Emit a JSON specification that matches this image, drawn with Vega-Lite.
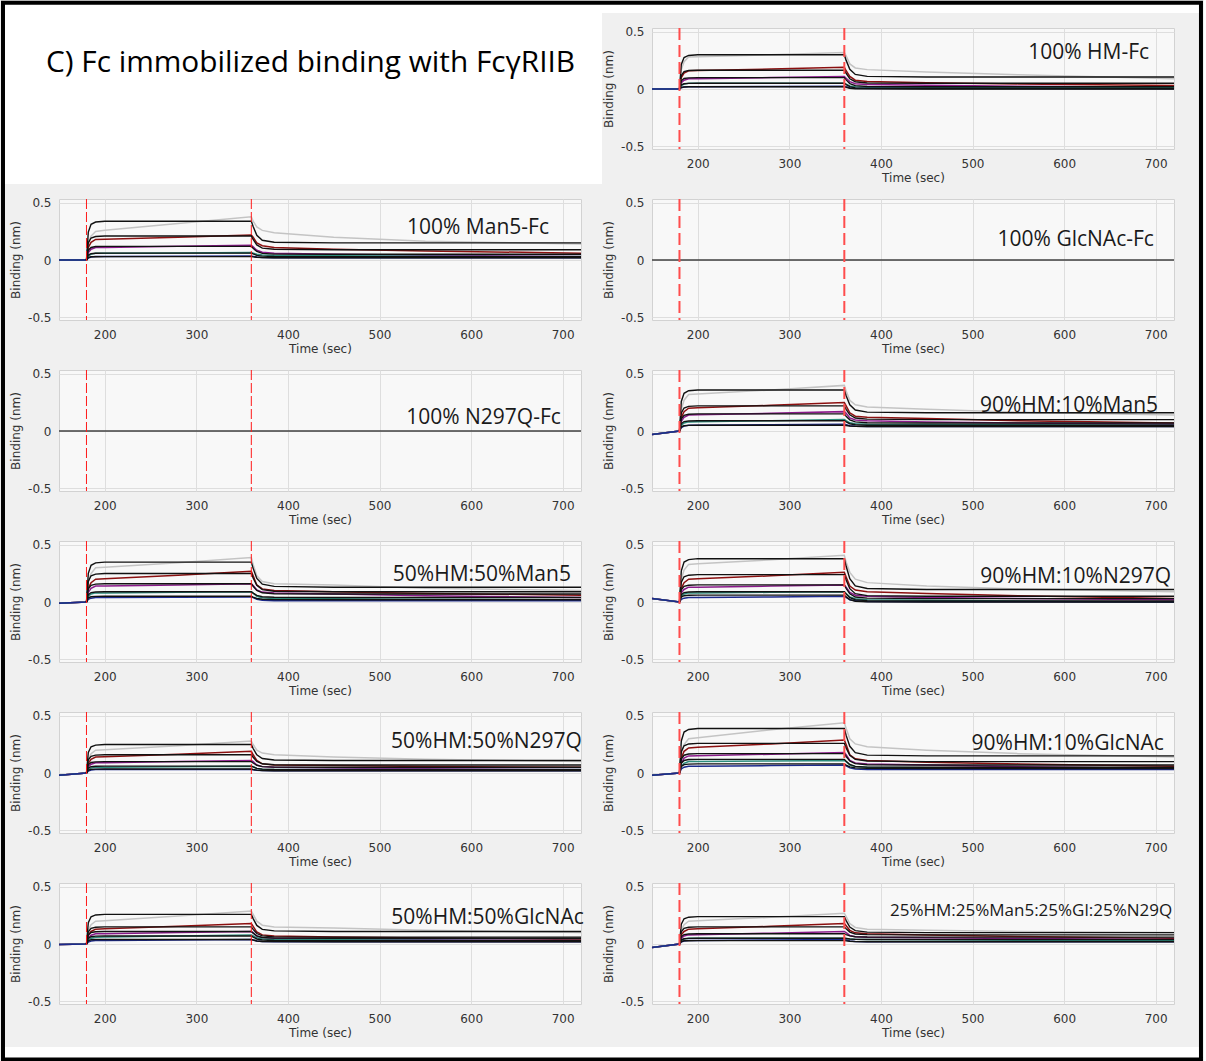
{
"$schema":"https://vega.github.io/schema/vega-lite/v6.json",
"background":"#f0f0f0",
"padding":0,
"datasets":{
"heading":[{"text":"C) Fc immobilized binding with FcγRIIB"}],
"phases":[{"t":180},{"t":360}],
"labels":[{"p":"HM","name":"100% HM-Fc"},{"p":"Man5","name":"100% Man5-Fc"},{"p":"GlcNAc","name":"100% GlcNAc-Fc"},{"p":"N297Q","name":"100% N297Q-Fc"},{"p":"90Man5","name":"90%HM:10%Man5"},{"p":"50Man5","name":"50%HM:50%Man5"},{"p":"90N297Q","name":"90%HM:10%N297Q"},{"p":"50N297Q","name":"50%HM:50%N297Q"},{"p":"90GlcNAc","name":"90%HM:10%GlcNAc"},{"p":"50GlcNAc","name":"50%HM:50%GlcNAc"},{"p":"25","name":"25%HM:25%Man5:25%Gl:25%N29Q"}],
"curves":[
{"p":"HM","t":150,"g":0,"r":0,"u":0,"e":0,"b":0},
{"p":"HM","t":180,"f1":0,"f2":0,"f3":0,"f4":0,"f5":0,"g":0,"r":0,"u":0,"e":0,"b":0},
{"p":"HM","t":182,"f1":0.216,"f2":0.119,"f3":0.072,"f4":0.036,"f5":0.014,"g":0.17,"r":0.1,"u":0.055,"e":0.03,"b":0.012},
{"p":"HM","t":185,"f1":0.276,"f2":0.152,"f3":0.092,"f4":0.046,"f5":0.018,"g":0.24,"r":0.14,"u":0.077,"e":0.043,"b":0.017},
{"p":"HM","t":190,"f1":0.294,"f2":0.162,"f3":0.098,"f4":0.049,"f5":0.02,"g":0.28,"r":0.16,"u":0.09,"e":0.05,"b":0.02},
{"p":"HM","t":200,"f1":0.3,"f2":0.165,"f3":0.1,"f4":0.05,"f5":0.02,"g":0.283,"r":0.162,"u":0.091,"e":0.05,"b":0.02},
{"p":"HM","t":280,"f1":0.3,"f2":0.165,"f3":0.1,"f4":0.05,"f5":0.02,"g":0.3,"r":0.175,"u":0.1,"e":0.05,"b":0.022},
{"p":"HM","t":360,"f1":0.3,"f2":0.165,"f3":0.1,"f4":0.05,"f5":0.02,"g":0.32,"r":0.19,"u":0.11,"e":0.05,"b":0.025},
{"p":"HM","t":362,"f1":0.251,"f2":0.136,"f3":0.08,"f4":0.039,"f5":0.015,"g":0.29,"r":0.16,"u":0.095,"e":0.043,"b":0.02},
{"p":"HM","t":366,"f1":0.173,"f2":0.09,"f3":0.048,"f4":0.021,"f5":0.007,"g":0.22,"r":0.11,"u":0.065,"e":0.027,"b":0.012},
{"p":"HM","t":372,"f1":0.128,"f2":0.064,"f3":0.03,"f4":0.01,"f5":0.002,"g":0.185,"r":0.077,"u":0.047,"e":0.019,"b":0.007},
{"p":"HM","t":385,"f1":0.111,"f2":0.053,"f3":0.022,"f4":0.006,"f5":0.001,"g":0.17,"r":0.065,"u":0.04,"e":0.015,"b":0.005},
{"p":"HM","t":450,"f1":0.105,"f2":0.05,"f3":0.02,"f4":0.005,"f5":0,"g":0.15,"r":0.055,"u":0.033,"e":0.013,"b":0.004},
{"p":"HM","t":550,"f1":0.105,"f2":0.05,"f3":0.02,"f4":0.005,"f5":0,"g":0.125,"r":0.045,"u":0.025,"e":0.012,"b":0.004},
{"p":"HM","t":720,"f1":0.105,"f2":0.05,"f3":0.02,"f4":0.005,"f5":0,"g":0.09,"r":0.03,"u":0.015,"e":0.01,"b":0.003},
{"p":"Man5","t":150,"g":0,"r":0,"u":0,"e":0,"b":0},
{"p":"Man5","t":180,"f1":0,"f2":0,"f3":0,"f4":0,"f5":0,"g":0,"r":0,"u":0,"e":0,"b":0},
{"p":"Man5","t":182,"f1":0.245,"f2":0.151,"f3":0.086,"f4":0.043,"f5":0.022,"g":0.15,"r":0.11,"u":0.065,"e":0.035,"b":0.018},
{"p":"Man5","t":185,"f1":0.313,"f2":0.193,"f3":0.11,"f4":0.055,"f5":0.028,"g":0.21,"r":0.155,"u":0.095,"e":0.052,"b":0.026},
{"p":"Man5","t":190,"f1":0.333,"f2":0.206,"f3":0.118,"f4":0.059,"f5":0.029,"g":0.25,"r":0.18,"u":0.11,"e":0.06,"b":0.03},
{"p":"Man5","t":200,"f1":0.34,"f2":0.21,"f3":0.12,"f4":0.06,"f5":0.03,"g":0.26,"r":0.183,"u":0.11,"e":0.06,"b":0.03},
{"p":"Man5","t":280,"f1":0.34,"f2":0.21,"f3":0.12,"f4":0.06,"f5":0.03,"g":0.32,"r":0.2,"u":0.12,"e":0.062,"b":0.032},
{"p":"Man5","t":360,"f1":0.34,"f2":0.21,"f3":0.12,"f4":0.06,"f5":0.03,"g":0.38,"r":0.22,"u":0.13,"e":0.065,"b":0.035},
{"p":"Man5","t":362,"f1":0.293,"f2":0.18,"f3":0.103,"f4":0.053,"f5":0.028,"g":0.34,"r":0.2,"u":0.115,"e":0.06,"b":0.032},
{"p":"Man5","t":366,"f1":0.217,"f2":0.132,"f3":0.075,"f4":0.041,"f5":0.024,"g":0.29,"r":0.15,"u":0.085,"e":0.05,"b":0.026},
{"p":"Man5","t":372,"f1":0.173,"f2":0.104,"f3":0.058,"f4":0.034,"f5":0.021,"g":0.26,"r":0.125,"u":0.068,"e":0.043,"b":0.022},
{"p":"Man5","t":385,"f1":0.156,"f2":0.094,"f3":0.052,"f4":0.031,"f5":0.02,"g":0.24,"r":0.11,"u":0.06,"e":0.04,"b":0.02},
{"p":"Man5","t":450,"f1":0.15,"f2":0.09,"f3":0.05,"f4":0.03,"f5":0.02,"g":0.2,"r":0.095,"u":0.05,"e":0.037,"b":0.02},
{"p":"Man5","t":550,"f1":0.15,"f2":0.09,"f3":0.05,"f4":0.03,"f5":0.02,"g":0.165,"r":0.08,"u":0.042,"e":0.034,"b":0.02},
{"p":"Man5","t":720,"f1":0.15,"f2":0.09,"f3":0.05,"f4":0.03,"f5":0.02,"g":0.14,"r":0.06,"u":0.03,"e":0.03,"b":0.02},
{"p":"GlcNAc","t":150,"f1":0},
{"p":"GlcNAc","t":720,"f1":0},
{"p":"N297Q","t":150,"f1":0},
{"p":"N297Q","t":720,"f1":0},
{"p":"90Man5","t":150,"g":-0.03,"r":-0.03,"u":-0.03,"e":-0.03,"b":-0.03},
{"p":"90Man5","t":180,"f1":0,"f2":0,"f3":0,"f4":0,"f5":0,"g":0,"r":0,"u":0,"e":0,"b":0},
{"p":"90Man5","t":182,"f1":0.259,"f2":0.158,"f3":0.108,"f4":0.065,"f5":0.036,"g":0.19,"r":0.12,"u":0.085,"e":0.05,"b":0.03},
{"p":"90Man5","t":185,"f1":0.331,"f2":0.202,"f3":0.138,"f4":0.083,"f5":0.046,"g":0.27,"r":0.17,"u":0.12,"e":0.07,"b":0.043},
{"p":"90Man5","t":190,"f1":0.353,"f2":0.216,"f3":0.147,"f4":0.088,"f5":0.049,"g":0.32,"r":0.2,"u":0.14,"e":0.08,"b":0.05},
{"p":"90Man5","t":200,"f1":0.36,"f2":0.22,"f3":0.15,"f4":0.09,"f5":0.05,"g":0.325,"r":0.205,"u":0.142,"e":0.082,"b":0.05},
{"p":"90Man5","t":280,"f1":0.36,"f2":0.22,"f3":0.15,"f4":0.09,"f5":0.05,"g":0.36,"r":0.225,"u":0.155,"e":0.09,"b":0.055},
{"p":"90Man5","t":360,"f1":0.36,"f2":0.22,"f3":0.15,"f4":0.09,"f5":0.05,"g":0.4,"r":0.25,"u":0.17,"e":0.1,"b":0.06},
{"p":"90Man5","t":362,"f1":0.31,"f2":0.19,"f3":0.13,"f4":0.08,"f5":0.048,"g":0.35,"r":0.22,"u":0.155,"e":0.09,"b":0.056},
{"p":"90Man5","t":366,"f1":0.23,"f2":0.142,"f3":0.098,"f4":0.064,"f5":0.044,"g":0.27,"r":0.16,"u":0.115,"e":0.072,"b":0.047},
{"p":"90Man5","t":372,"f1":0.184,"f2":0.114,"f3":0.08,"f4":0.055,"f5":0.041,"g":0.23,"r":0.13,"u":0.097,"e":0.064,"b":0.042},
{"p":"90Man5","t":385,"f1":0.166,"f2":0.104,"f3":0.072,"f4":0.051,"f5":0.04,"g":0.21,"r":0.12,"u":0.09,"e":0.06,"b":0.04},
{"p":"90Man5","t":450,"f1":0.16,"f2":0.1,"f3":0.07,"f4":0.05,"f5":0.04,"g":0.19,"r":0.11,"u":0.08,"e":0.057,"b":0.04},
{"p":"90Man5","t":550,"f1":0.16,"f2":0.1,"f3":0.07,"f4":0.05,"f5":0.04,"g":0.165,"r":0.09,"u":0.07,"e":0.054,"b":0.04},
{"p":"90Man5","t":720,"f1":0.16,"f2":0.1,"f3":0.07,"f4":0.05,"f5":0.04,"g":0.14,"r":0.07,"u":0.06,"e":0.05,"b":0.04},
{"p":"50Man5","t":150,"g":-0.01,"r":-0.01,"u":-0.01,"e":-0.01,"b":-0.01},
{"p":"50Man5","t":180,"f1":0,"f2":0,"f3":0,"f4":0,"f5":0,"g":0,"r":0,"u":0,"e":0,"b":0},
{"p":"50Man5","t":182,"f1":0.252,"f2":0.18,"f3":0.115,"f4":0.065,"f5":0.036,"g":0.18,"r":0.12,"u":0.085,"e":0.05,"b":0.024},
{"p":"50Man5","t":185,"f1":0.322,"f2":0.23,"f3":0.147,"f4":0.083,"f5":0.046,"g":0.25,"r":0.17,"u":0.12,"e":0.07,"b":0.034},
{"p":"50Man5","t":190,"f1":0.343,"f2":0.245,"f3":0.157,"f4":0.088,"f5":0.049,"g":0.3,"r":0.2,"u":0.14,"e":0.08,"b":0.04},
{"p":"50Man5","t":200,"f1":0.35,"f2":0.25,"f3":0.16,"f4":0.09,"f5":0.05,"g":0.305,"r":0.205,"u":0.14,"e":0.08,"b":0.04},
{"p":"50Man5","t":280,"f1":0.35,"f2":0.25,"f3":0.16,"f4":0.09,"f5":0.05,"g":0.345,"r":0.235,"u":0.15,"e":0.085,"b":0.042},
{"p":"50Man5","t":360,"f1":0.35,"f2":0.25,"f3":0.16,"f4":0.09,"f5":0.05,"g":0.39,"r":0.27,"u":0.16,"e":0.09,"b":0.045},
{"p":"50Man5","t":362,"f1":0.295,"f2":0.21,"f3":0.138,"f4":0.078,"f5":0.043,"g":0.33,"r":0.23,"u":0.145,"e":0.078,"b":0.038},
{"p":"50Man5","t":366,"f1":0.207,"f2":0.146,"f3":0.102,"f4":0.058,"f5":0.031,"g":0.23,"r":0.15,"u":0.105,"e":0.05,"b":0.024},
{"p":"50Man5","t":372,"f1":0.156,"f2":0.109,"f3":0.081,"f4":0.046,"f5":0.024,"g":0.18,"r":0.115,"u":0.087,"e":0.037,"b":0.016},
{"p":"50Man5","t":385,"f1":0.137,"f2":0.095,"f3":0.073,"f4":0.042,"f5":0.021,"g":0.16,"r":0.1,"u":0.08,"e":0.03,"b":0.012},
{"p":"50Man5","t":450,"f1":0.13,"f2":0.09,"f3":0.07,"f4":0.04,"f5":0.02,"g":0.15,"r":0.09,"u":0.07,"e":0.028,"b":0.011},
{"p":"50Man5","t":550,"f1":0.13,"f2":0.09,"f3":0.07,"f4":0.04,"f5":0.02,"g":0.12,"r":0.075,"u":0.055,"e":0.025,"b":0.01},
{"p":"50Man5","t":720,"f1":0.13,"f2":0.09,"f3":0.07,"f4":0.04,"f5":0.02,"g":0.1,"r":0.06,"u":0.04,"e":0.02,"b":0.01},
{"p":"90N297Q","t":150,"g":0.03,"r":0.03,"u":0.03,"e":0.03,"b":0.03},
{"p":"90N297Q","t":180,"f1":0,"f2":0,"f3":0,"f4":0,"f5":0,"g":0,"r":0,"u":0,"e":0,"b":0},
{"p":"90N297Q","t":182,"f1":0.274,"f2":0.173,"f3":0.108,"f4":0.065,"f5":0.043,"g":0.2,"r":0.12,"u":0.08,"e":0.05,"b":0.024},
{"p":"90N297Q","t":185,"f1":0.35,"f2":0.221,"f3":0.138,"f4":0.083,"f5":0.055,"g":0.28,"r":0.17,"u":0.11,"e":0.07,"b":0.034},
{"p":"90N297Q","t":190,"f1":0.372,"f2":0.235,"f3":0.147,"f4":0.088,"f5":0.059,"g":0.33,"r":0.2,"u":0.13,"e":0.08,"b":0.04},
{"p":"90N297Q","t":200,"f1":0.38,"f2":0.24,"f3":0.15,"f4":0.09,"f5":0.06,"g":0.335,"r":0.205,"u":0.13,"e":0.08,"b":0.04},
{"p":"90N297Q","t":280,"f1":0.38,"f2":0.24,"f3":0.15,"f4":0.09,"f5":0.06,"g":0.37,"r":0.23,"u":0.14,"e":0.085,"b":0.045},
{"p":"90N297Q","t":360,"f1":0.38,"f2":0.24,"f3":0.15,"f4":0.09,"f5":0.06,"g":0.41,"r":0.26,"u":0.15,"e":0.09,"b":0.05},
{"p":"90N297Q","t":362,"f1":0.313,"f2":0.193,"f3":0.12,"f4":0.07,"f5":0.045,"g":0.35,"r":0.22,"u":0.13,"e":0.075,"b":0.04},
{"p":"90N297Q","t":366,"f1":0.205,"f2":0.117,"f3":0.072,"f4":0.038,"f5":0.021,"g":0.26,"r":0.14,"u":0.085,"e":0.045,"b":0.02},
{"p":"90N297Q","t":372,"f1":0.142,"f2":0.073,"f3":0.044,"f4":0.02,"f5":0.007,"g":0.2,"r":0.105,"u":0.06,"e":0.028,"b":0.01},
{"p":"90N297Q","t":385,"f1":0.118,"f2":0.056,"f3":0.034,"f4":0.012,"f5":0.002,"g":0.17,"r":0.09,"u":0.05,"e":0.02,"b":0.005},
{"p":"90N297Q","t":450,"f1":0.11,"f2":0.05,"f3":0.03,"f4":0.01,"f5":0,"g":0.14,"r":0.075,"u":0.04,"e":0.015,"b":0.003},
{"p":"90N297Q","t":550,"f1":0.11,"f2":0.05,"f3":0.03,"f4":0.01,"f5":0,"g":0.115,"r":0.055,"u":0.03,"e":0.008,"b":0.002},
{"p":"90N297Q","t":720,"f1":0.11,"f2":0.05,"f3":0.03,"f4":0.01,"f5":0,"g":0.09,"r":0.03,"u":0.02,"e":0,"b":0},
{"p":"50N297Q","t":150,"g":-0.02,"r":-0.02,"u":-0.02,"e":-0.02,"b":-0.02},
{"p":"50N297Q","t":180,"f1":0,"f2":0,"f3":0,"f4":0,"f5":0,"g":0,"r":0,"u":0,"e":0,"b":0},
{"p":"50N297Q","t":182,"f1":0.18,"f2":0.115,"f3":0.072,"f4":0.043,"f5":0.025,"g":0.12,"r":0.085,"u":0.055,"e":0.03,"b":0.018},
{"p":"50N297Q","t":185,"f1":0.23,"f2":0.147,"f3":0.092,"f4":0.055,"f5":0.032,"g":0.17,"r":0.12,"u":0.077,"e":0.043,"b":0.026},
{"p":"50N297Q","t":190,"f1":0.245,"f2":0.157,"f3":0.098,"f4":0.059,"f5":0.034,"g":0.2,"r":0.14,"u":0.09,"e":0.05,"b":0.03},
{"p":"50N297Q","t":200,"f1":0.25,"f2":0.16,"f3":0.1,"f4":0.06,"f5":0.035,"g":0.205,"r":0.143,"u":0.09,"e":0.05,"b":0.03},
{"p":"50N297Q","t":280,"f1":0.25,"f2":0.16,"f3":0.1,"f4":0.06,"f5":0.035,"g":0.24,"r":0.165,"u":0.1,"e":0.055,"b":0.03},
{"p":"50N297Q","t":360,"f1":0.25,"f2":0.16,"f3":0.1,"f4":0.06,"f5":0.035,"g":0.28,"r":0.19,"u":0.11,"e":0.06,"b":0.03},
{"p":"50N297Q","t":362,"f1":0.215,"f2":0.138,"f3":0.088,"f4":0.053,"f5":0.031,"g":0.25,"r":0.16,"u":0.1,"e":0.055,"b":0.028},
{"p":"50N297Q","t":366,"f1":0.159,"f2":0.102,"f3":0.068,"f4":0.041,"f5":0.025,"g":0.2,"r":0.11,"u":0.07,"e":0.04,"b":0.024},
{"p":"50N297Q","t":372,"f1":0.127,"f2":0.081,"f3":0.056,"f4":0.034,"f5":0.022,"g":0.175,"r":0.08,"u":0.056,"e":0.033,"b":0.021},
{"p":"50N297Q","t":385,"f1":0.114,"f2":0.073,"f3":0.052,"f4":0.031,"f5":0.02,"g":0.16,"r":0.07,"u":0.05,"e":0.03,"b":0.02},
{"p":"50N297Q","t":450,"f1":0.11,"f2":0.07,"f3":0.05,"f4":0.03,"f5":0.02,"g":0.14,"r":0.065,"u":0.045,"e":0.03,"b":0.02},
{"p":"50N297Q","t":550,"f1":0.11,"f2":0.07,"f3":0.05,"f4":0.03,"f5":0.02,"g":0.12,"r":0.058,"u":0.038,"e":0.03,"b":0.02},
{"p":"50N297Q","t":720,"f1":0.11,"f2":0.07,"f3":0.05,"f4":0.03,"f5":0.02,"g":0.1,"r":0.05,"u":0.03,"e":0.03,"b":0.02},
{"p":"90GlcNAc","t":150,"g":-0.02,"r":-0.02,"u":-0.02,"e":-0.02,"b":-0.02},
{"p":"90GlcNAc","t":180,"f1":0,"f2":0,"f3":0,"f4":0,"f5":0,"g":0,"r":0,"u":0,"e":0,"b":0},
{"p":"90GlcNAc","t":182,"f1":0.281,"f2":0.187,"f3":0.122,"f4":0.086,"f5":0.058,"g":0.18,"r":0.13,"u":0.09,"e":0.06,"b":0.036},
{"p":"90GlcNAc","t":185,"f1":0.359,"f2":0.239,"f3":0.156,"f4":0.11,"f5":0.074,"g":0.25,"r":0.19,"u":0.13,"e":0.085,"b":0.051},
{"p":"90GlcNAc","t":190,"f1":0.382,"f2":0.255,"f3":0.167,"f4":0.118,"f5":0.078,"g":0.3,"r":0.22,"u":0.15,"e":0.1,"b":0.06},
{"p":"90GlcNAc","t":200,"f1":0.39,"f2":0.26,"f3":0.17,"f4":0.12,"f5":0.08,"g":0.31,"r":0.225,"u":0.152,"e":0.1,"b":0.06},
{"p":"90GlcNAc","t":280,"f1":0.39,"f2":0.26,"f3":0.17,"f4":0.12,"f5":0.08,"g":0.38,"r":0.255,"u":0.165,"e":0.105,"b":0.065},
{"p":"90GlcNAc","t":360,"f1":0.39,"f2":0.26,"f3":0.17,"f4":0.12,"f5":0.08,"g":0.44,"r":0.29,"u":0.18,"e":0.11,"b":0.07},
{"p":"90GlcNAc","t":362,"f1":0.33,"f2":0.22,"f3":0.145,"f4":0.103,"f5":0.07,"g":0.39,"r":0.25,"u":0.16,"e":0.1,"b":0.063},
{"p":"90GlcNAc","t":366,"f1":0.234,"f2":0.156,"f3":0.105,"f4":0.075,"f5":0.054,"g":0.3,"r":0.16,"u":0.11,"e":0.07,"b":0.045},
{"p":"90GlcNAc","t":372,"f1":0.179,"f2":0.119,"f3":0.082,"f4":0.058,"f5":0.045,"g":0.255,"r":0.125,"u":0.088,"e":0.056,"b":0.035},
{"p":"90GlcNAc","t":385,"f1":0.157,"f2":0.105,"f3":0.073,"f4":0.052,"f5":0.041,"g":0.23,"r":0.11,"u":0.08,"e":0.05,"b":0.03},
{"p":"90GlcNAc","t":450,"f1":0.15,"f2":0.1,"f3":0.07,"f4":0.05,"f5":0.04,"g":0.2,"r":0.095,"u":0.07,"e":0.047,"b":0.03},
{"p":"90GlcNAc","t":550,"f1":0.15,"f2":0.1,"f3":0.07,"f4":0.05,"f5":0.04,"g":0.17,"r":0.08,"u":0.055,"e":0.044,"b":0.03},
{"p":"90GlcNAc","t":720,"f1":0.15,"f2":0.1,"f3":0.07,"f4":0.05,"f5":0.04,"g":0.14,"r":0.06,"u":0.04,"e":0.04,"b":0.03},
{"p":"50GlcNAc","t":150,"g":-0.005,"r":-0.005,"u":-0.005,"e":-0.005,"b":-0.005},
{"p":"50GlcNAc","t":180,"f1":0,"f2":0,"f3":0,"f4":0,"f5":0,"g":0,"r":0,"u":0,"e":0,"b":0},
{"p":"50GlcNAc","t":182,"f1":0.187,"f2":0.108,"f3":0.079,"f4":0.05,"f5":0.029,"g":0.12,"r":0.08,"u":0.055,"e":0.036,"b":0.018},
{"p":"50GlcNAc","t":185,"f1":0.239,"f2":0.138,"f3":0.101,"f4":0.064,"f5":0.037,"g":0.17,"r":0.11,"u":0.077,"e":0.051,"b":0.026},
{"p":"50GlcNAc","t":190,"f1":0.255,"f2":0.147,"f3":0.108,"f4":0.069,"f5":0.039,"g":0.2,"r":0.13,"u":0.09,"e":0.06,"b":0.03},
{"p":"50GlcNAc","t":200,"f1":0.26,"f2":0.15,"f3":0.11,"f4":0.07,"f5":0.04,"g":0.205,"r":0.133,"u":0.09,"e":0.061,"b":0.03},
{"p":"50GlcNAc","t":280,"f1":0.26,"f2":0.15,"f3":0.11,"f4":0.07,"f5":0.04,"g":0.245,"r":0.155,"u":0.1,"e":0.07,"b":0.035},
{"p":"50GlcNAc","t":360,"f1":0.26,"f2":0.15,"f3":0.11,"f4":0.07,"f5":0.04,"g":0.29,"r":0.18,"u":0.11,"e":0.08,"b":0.04},
{"p":"50GlcNAc","t":362,"f1":0.223,"f2":0.128,"f3":0.095,"f4":0.06,"f5":0.035,"g":0.26,"r":0.155,"u":0.1,"e":0.072,"b":0.036},
{"p":"50GlcNAc","t":366,"f1":0.163,"f2":0.092,"f3":0.071,"f4":0.044,"f5":0.027,"g":0.2,"r":0.105,"u":0.07,"e":0.054,"b":0.027},
{"p":"50GlcNAc","t":372,"f1":0.128,"f2":0.071,"f3":0.057,"f4":0.035,"f5":0.022,"g":0.165,"r":0.08,"u":0.056,"e":0.045,"b":0.022},
{"p":"50GlcNAc","t":385,"f1":0.115,"f2":0.063,"f3":0.052,"f4":0.031,"f5":0.021,"g":0.15,"r":0.07,"u":0.05,"e":0.04,"b":0.02},
{"p":"50GlcNAc","t":450,"f1":0.11,"f2":0.06,"f3":0.05,"f4":0.03,"f5":0.02,"g":0.14,"r":0.062,"u":0.045,"e":0.037,"b":0.02},
{"p":"50GlcNAc","t":550,"f1":0.11,"f2":0.06,"f3":0.05,"f4":0.03,"f5":0.02,"g":0.12,"r":0.052,"u":0.038,"e":0.034,"b":0.02},
{"p":"50GlcNAc","t":720,"f1":0.11,"f2":0.06,"f3":0.05,"f4":0.03,"f5":0.02,"g":0.1,"r":0.04,"u":0.03,"e":0.03,"b":0.02},
{"p":"25","t":150,"g":-0.03,"r":-0.03,"u":-0.03,"e":-0.03,"b":-0.03},
{"p":"25","t":180,"f1":0,"f2":0,"f3":0,"f4":0,"f5":0,"g":0,"r":0,"u":0,"e":0,"b":0},
{"p":"25","t":182,"f1":0.173,"f2":0.108,"f3":0.065,"f4":0.036,"f5":0.022,"g":0.12,"r":0.08,"u":0.05,"e":0.03,"b":0.018},
{"p":"25","t":185,"f1":0.221,"f2":0.138,"f3":0.083,"f4":0.046,"f5":0.028,"g":0.17,"r":0.11,"u":0.07,"e":0.043,"b":0.026},
{"p":"25","t":190,"f1":0.235,"f2":0.147,"f3":0.088,"f4":0.049,"f5":0.029,"g":0.2,"r":0.13,"u":0.08,"e":0.05,"b":0.03},
{"p":"25","t":200,"f1":0.24,"f2":0.15,"f3":0.09,"f4":0.05,"f5":0.03,"g":0.205,"r":0.133,"u":0.082,"e":0.05,"b":0.03},
{"p":"25","t":280,"f1":0.24,"f2":0.15,"f3":0.09,"f4":0.05,"f5":0.03,"g":0.235,"r":0.155,"u":0.095,"e":0.05,"b":0.035},
{"p":"25","t":360,"f1":0.24,"f2":0.15,"f3":0.09,"f4":0.05,"f5":0.03,"g":0.27,"r":0.18,"u":0.11,"e":0.05,"b":0.04},
{"p":"25","t":362,"f1":0.205,"f2":0.133,"f3":0.083,"f4":0.048,"f5":0.028,"g":0.24,"r":0.16,"u":0.1,"e":0.048,"b":0.036},
{"p":"25","t":366,"f1":0.149,"f2":0.105,"f3":0.071,"f4":0.044,"f5":0.024,"g":0.18,"r":0.12,"u":0.075,"e":0.044,"b":0.027},
{"p":"25","t":372,"f1":0.117,"f2":0.088,"f3":0.064,"f4":0.041,"f5":0.021,"g":0.145,"r":0.098,"u":0.064,"e":0.041,"b":0.022},
{"p":"25","t":385,"f1":0.104,"f2":0.082,"f3":0.061,"f4":0.04,"f5":0.02,"g":0.13,"r":0.09,"u":0.06,"e":0.04,"b":0.02},
{"p":"25","t":450,"f1":0.1,"f2":0.08,"f3":0.06,"f4":0.04,"f5":0.02,"g":0.12,"r":0.08,"u":0.055,"e":0.037,"b":0.02},
{"p":"25","t":550,"f1":0.1,"f2":0.08,"f3":0.06,"f4":0.04,"f5":0.02,"g":0.11,"r":0.065,"u":0.048,"e":0.034,"b":0.02},
{"p":"25","t":720,"f1":0.1,"f2":0.08,"f3":0.06,"f4":0.04,"f5":0.02,"g":0.1,"r":0.05,"u":0.04,"e":0.03,"b":0.02}
]},
"columns":2,
"spacing":{"row":50,"column":71},
"bounds":"flush",
"concat":[
{"width":522,"height":121,"view":{"fill":"transparent","stroke":"transparent"},"data":{"name":"heading"},
 "layer":[
  {"mark":{"type":"rect","fill":"#ffffff"},"encoding":{"x":{"datum":-0.1034,"type":"quantitative","scale":{"domain":[0,1],"nice":false,"zero":false},"axis":null},"x2":{"datum":1.0402},"y":{"datum":-0.1983,"type":"quantitative","scale":{"domain":[0,1],"reverse":true,"nice":false,"zero":false},"axis":null},"y2":{"datum":1.289}}},
  {"mark":{"type":"rect","fill":"#ffffff"},"encoding":{"x":{"datum":1.0402,"type":"quantitative"},"x2":{"datum":2.1839},"y":{"datum":-0.1983,"type":"quantitative"},"y2":{"datum":-0.124}}},
  {"mark":{"type":"rect","fill":"#ffffff"},"encoding":{"x":{"datum":-0.1034,"type":"quantitative"},"x2":{"datum":2.1839},"y":{"datum":8.421,"type":"quantitative"},"y2":{"datum":8.512}}},
  {"mark":{"type":"rect","fillOpacity":0,"stroke":"#000000","strokeWidth":4},"encoding":{"x":{"datum":-0.1073,"type":"quantitative"},"x2":{"datum":2.1877},"y":{"datum":-0.2083,"type":"quantitative"},"y2":{"datum":8.525}}},
  {"mark":{"type":"text","align":"left","baseline":"middle","font":"Open Sans","fontSize":29.8,"color":"#000000"},"encoding":{"x":{"datum":-0.025,"type":"quantitative"},"y":{"datum":0.29,"type":"quantitative"},"text":{"field":"text"}}}
 ]},
{"width":522,"height":121,"layer":[
 {"data":{"name":"curves"},"transform":[{"filter":"datum.p==='HM'"},{"fold":["g","r","u","e","b"],"as":["s","v"]},{"filter":"isValid(datum.v)"}],"mark":{"type":"line","strokeWidth":1.5},
  "encoding":{"x":{"field":"t","type":"quantitative","scale":{"domain":[150,720],"nice":false,"zero":false},"axis":{"values":[200,300,400,500,600,700],"format":"d","title":"Time (sec)"}},"y":{"field":"v","type":"quantitative","scale":{"domain":[-0.526,0.535],"nice":false,"zero":false},"axis":{"values":[-0.5,0,0.5],"title":"Binding (nm)","labelExpr":"datum.value > 0.1 ? '0.5' : datum.value < -0.1 ? '-0.5' : '0'"}},"color":{"field":"s","type":"nominal","scale":{"domain":["g","r","u","e","b"],"range":["#c4c4c4","#8b1010","#8a1a8a","#2b8c7c","#1c2a8c"]},"legend":null}}},
 {"data":{"name":"curves"},"transform":[{"filter":"datum.p==='HM'"},{"fold":["f1","f2","f3","f4","f5"],"as":["s","v"]},{"filter":"isValid(datum.v)"}],"mark":{"type":"line","strokeWidth":1.4,"color":"#111111"},"encoding":{"x":{"field":"t","type":"quantitative"},"y":{"field":"v","type":"quantitative"},"detail":{"field":"s"}}},
 {"data":{"name":"phases"},"mark":{"type":"rule","color":"#ff4d4d","strokeWidth":2,"strokeDash":[12,5]},"encoding":{"x":{"field":"t","type":"quantitative"}}},
 {"data":{"name":"labels"},"transform":[{"filter":"datum.p==='HM'"}],"mark":{"type":"text","align":"right","baseline":"middle","font":"Open Sans","fontSize":21,"color":"#1a1a1a"},"encoding":{"x":{"datum":692.8,"type":"quantitative"},"y":{"datum":0.316,"type":"quantitative"},"text":{"field":"name"}}}
]},
{"width":522,"height":121,"layer":[
 {"data":{"name":"curves"},"transform":[{"filter":"datum.p==='Man5'"},{"fold":["g","r","u","e","b"],"as":["s","v"]},{"filter":"isValid(datum.v)"}],"mark":{"type":"line","strokeWidth":1.5},
  "encoding":{"x":{"field":"t","type":"quantitative","scale":{"domain":[150,720],"nice":false,"zero":false},"axis":{"values":[200,300,400,500,600,700],"format":"d","title":"Time (sec)"}},"y":{"field":"v","type":"quantitative","scale":{"domain":[-0.526,0.535],"nice":false,"zero":false},"axis":{"values":[-0.5,0,0.5],"title":"Binding (nm)","labelExpr":"datum.value > 0.1 ? '0.5' : datum.value < -0.1 ? '-0.5' : '0'"}},"color":{"field":"s","type":"nominal","scale":{"domain":["g","r","u","e","b"],"range":["#c4c4c4","#8b1010","#8a1a8a","#2b8c7c","#1c2a8c"]},"legend":null}}},
 {"data":{"name":"curves"},"transform":[{"filter":"datum.p==='Man5'"},{"fold":["f1","f2","f3","f4","f5"],"as":["s","v"]},{"filter":"isValid(datum.v)"}],"mark":{"type":"line","strokeWidth":1.4,"color":"#111111"},"encoding":{"x":{"field":"t","type":"quantitative"},"y":{"field":"v","type":"quantitative"},"detail":{"field":"s"}}},
 {"data":{"name":"phases"},"mark":{"type":"rule","color":"#ff1a1a","strokeWidth":1,"strokeDash":[10,3]},"encoding":{"x":{"field":"t","type":"quantitative"}}},
 {"data":{"name":"labels"},"transform":[{"filter":"datum.p==='Man5'"}],"mark":{"type":"text","align":"right","baseline":"middle","font":"Open Sans","fontSize":21,"color":"#1a1a1a"},"encoding":{"x":{"datum":685,"type":"quantitative"},"y":{"datum":0.28,"type":"quantitative"},"text":{"field":"name"}}}
]},
{"width":522,"height":121,"layer":[
 {"data":{"name":"curves"},"transform":[{"filter":"datum.p==='GlcNAc'"},{"fold":["f1"],"as":["s","v"]},{"filter":"isValid(datum.v)"}],"mark":{"type":"line","strokeWidth":1.5,"color":"#404040"},
  "encoding":{"x":{"field":"t","type":"quantitative","scale":{"domain":[150,720],"nice":false,"zero":false},"axis":{"values":[200,300,400,500,600,700],"format":"d","title":"Time (sec)"}},"y":{"field":"v","type":"quantitative","scale":{"domain":[-0.526,0.535],"nice":false,"zero":false},"axis":{"values":[-0.5,0,0.5],"title":"Binding (nm)","labelExpr":"datum.value > 0.1 ? '0.5' : datum.value < -0.1 ? '-0.5' : '0'"}}}},
 {"data":{"name":"phases"},"mark":{"type":"rule","color":"#ff4d4d","strokeWidth":2,"strokeDash":[12,5]},"encoding":{"x":{"field":"t","type":"quantitative"}}},
 {"data":{"name":"labels"},"transform":[{"filter":"datum.p==='GlcNAc'"}],"mark":{"type":"text","align":"right","baseline":"middle","font":"Open Sans","fontSize":21,"color":"#1a1a1a"},"encoding":{"x":{"datum":698,"type":"quantitative"},"y":{"datum":0.175,"type":"quantitative"},"text":{"field":"name"}}}
]},
{"width":522,"height":121,"layer":[
 {"data":{"name":"curves"},"transform":[{"filter":"datum.p==='N297Q'"},{"fold":["f1"],"as":["s","v"]},{"filter":"isValid(datum.v)"}],"mark":{"type":"line","strokeWidth":1.5,"color":"#404040"},
  "encoding":{"x":{"field":"t","type":"quantitative","scale":{"domain":[150,720],"nice":false,"zero":false},"axis":{"values":[200,300,400,500,600,700],"format":"d","title":"Time (sec)"}},"y":{"field":"v","type":"quantitative","scale":{"domain":[-0.526,0.535],"nice":false,"zero":false},"axis":{"values":[-0.5,0,0.5],"title":"Binding (nm)","labelExpr":"datum.value > 0.1 ? '0.5' : datum.value < -0.1 ? '-0.5' : '0'"}}}},
 {"data":{"name":"phases"},"mark":{"type":"rule","color":"#ff1a1a","strokeWidth":1,"strokeDash":[10,3]},"encoding":{"x":{"field":"t","type":"quantitative"}}},
 {"data":{"name":"labels"},"transform":[{"filter":"datum.p==='N297Q'"}],"mark":{"type":"text","align":"right","baseline":"middle","font":"Open Sans","fontSize":21,"color":"#1a1a1a"},"encoding":{"x":{"datum":698,"type":"quantitative"},"y":{"datum":0.114,"type":"quantitative"},"text":{"field":"name"}}}
]},
{"width":522,"height":121,"layer":[
 {"data":{"name":"curves"},"transform":[{"filter":"datum.p==='90Man5'"},{"fold":["g","r","u","e","b"],"as":["s","v"]},{"filter":"isValid(datum.v)"}],"mark":{"type":"line","strokeWidth":1.5},
  "encoding":{"x":{"field":"t","type":"quantitative","scale":{"domain":[150,720],"nice":false,"zero":false},"axis":{"values":[200,300,400,500,600,700],"format":"d","title":"Time (sec)"}},"y":{"field":"v","type":"quantitative","scale":{"domain":[-0.526,0.535],"nice":false,"zero":false},"axis":{"values":[-0.5,0,0.5],"title":"Binding (nm)","labelExpr":"datum.value > 0.1 ? '0.5' : datum.value < -0.1 ? '-0.5' : '0'"}},"color":{"field":"s","type":"nominal","scale":{"domain":["g","r","u","e","b"],"range":["#c4c4c4","#8b1010","#8a1a8a","#2b8c7c","#1c2a8c"]},"legend":null}}},
 {"data":{"name":"curves"},"transform":[{"filter":"datum.p==='90Man5'"},{"fold":["f1","f2","f3","f4","f5"],"as":["s","v"]},{"filter":"isValid(datum.v)"}],"mark":{"type":"line","strokeWidth":1.4,"color":"#111111"},"encoding":{"x":{"field":"t","type":"quantitative"},"y":{"field":"v","type":"quantitative"},"detail":{"field":"s"}}},
 {"data":{"name":"phases"},"mark":{"type":"rule","color":"#ff4d4d","strokeWidth":2,"strokeDash":[12,5]},"encoding":{"x":{"field":"t","type":"quantitative"}}},
 {"data":{"name":"labels"},"transform":[{"filter":"datum.p==='90Man5'"}],"mark":{"type":"text","align":"right","baseline":"middle","font":"Open Sans","fontSize":21,"color":"#1a1a1a"},"encoding":{"x":{"datum":702.6,"type":"quantitative"},"y":{"datum":0.22,"type":"quantitative"},"text":{"field":"name"}}}
]},
{"width":522,"height":121,"layer":[
 {"data":{"name":"curves"},"transform":[{"filter":"datum.p==='50Man5'"},{"fold":["g","r","u","e","b"],"as":["s","v"]},{"filter":"isValid(datum.v)"}],"mark":{"type":"line","strokeWidth":1.5},
  "encoding":{"x":{"field":"t","type":"quantitative","scale":{"domain":[150,720],"nice":false,"zero":false},"axis":{"values":[200,300,400,500,600,700],"format":"d","title":"Time (sec)"}},"y":{"field":"v","type":"quantitative","scale":{"domain":[-0.526,0.535],"nice":false,"zero":false},"axis":{"values":[-0.5,0,0.5],"title":"Binding (nm)","labelExpr":"datum.value > 0.1 ? '0.5' : datum.value < -0.1 ? '-0.5' : '0'"}},"color":{"field":"s","type":"nominal","scale":{"domain":["g","r","u","e","b"],"range":["#c4c4c4","#8b1010","#8a1a8a","#2b8c7c","#1c2a8c"]},"legend":null}}},
 {"data":{"name":"curves"},"transform":[{"filter":"datum.p==='50Man5'"},{"fold":["f1","f2","f3","f4","f5"],"as":["s","v"]},{"filter":"isValid(datum.v)"}],"mark":{"type":"line","strokeWidth":1.4,"color":"#111111"},"encoding":{"x":{"field":"t","type":"quantitative"},"y":{"field":"v","type":"quantitative"},"detail":{"field":"s"}}},
 {"data":{"name":"phases"},"mark":{"type":"rule","color":"#ff1a1a","strokeWidth":1,"strokeDash":[10,3]},"encoding":{"x":{"field":"t","type":"quantitative"}}},
 {"data":{"name":"labels"},"transform":[{"filter":"datum.p==='50Man5'"}],"mark":{"type":"text","align":"right","baseline":"middle","font":"Open Sans","fontSize":21,"color":"#1a1a1a"},"encoding":{"x":{"datum":709,"type":"quantitative"},"y":{"datum":0.237,"type":"quantitative"},"text":{"field":"name"}}}
]},
{"width":522,"height":121,"layer":[
 {"data":{"name":"curves"},"transform":[{"filter":"datum.p==='90N297Q'"},{"fold":["g","r","u","e","b"],"as":["s","v"]},{"filter":"isValid(datum.v)"}],"mark":{"type":"line","strokeWidth":1.5},
  "encoding":{"x":{"field":"t","type":"quantitative","scale":{"domain":[150,720],"nice":false,"zero":false},"axis":{"values":[200,300,400,500,600,700],"format":"d","title":"Time (sec)"}},"y":{"field":"v","type":"quantitative","scale":{"domain":[-0.526,0.535],"nice":false,"zero":false},"axis":{"values":[-0.5,0,0.5],"title":"Binding (nm)","labelExpr":"datum.value > 0.1 ? '0.5' : datum.value < -0.1 ? '-0.5' : '0'"}},"color":{"field":"s","type":"nominal","scale":{"domain":["g","r","u","e","b"],"range":["#c4c4c4","#8b1010","#8a1a8a","#2b8c7c","#1c2a8c"]},"legend":null}}},
 {"data":{"name":"curves"},"transform":[{"filter":"datum.p==='90N297Q'"},{"fold":["f1","f2","f3","f4","f5"],"as":["s","v"]},{"filter":"isValid(datum.v)"}],"mark":{"type":"line","strokeWidth":1.4,"color":"#111111"},"encoding":{"x":{"field":"t","type":"quantitative"},"y":{"field":"v","type":"quantitative"},"detail":{"field":"s"}}},
 {"data":{"name":"phases"},"mark":{"type":"rule","color":"#ff4d4d","strokeWidth":2,"strokeDash":[12,5]},"encoding":{"x":{"field":"t","type":"quantitative"}}},
 {"data":{"name":"labels"},"transform":[{"filter":"datum.p==='90N297Q'"}],"mark":{"type":"text","align":"right","baseline":"middle","font":"Open Sans","fontSize":21,"color":"#1a1a1a"},"encoding":{"x":{"datum":716.8,"type":"quantitative"},"y":{"datum":0.22,"type":"quantitative"},"text":{"field":"name"}}}
]},
{"width":522,"height":121,"layer":[
 {"data":{"name":"curves"},"transform":[{"filter":"datum.p==='50N297Q'"},{"fold":["g","r","u","e","b"],"as":["s","v"]},{"filter":"isValid(datum.v)"}],"mark":{"type":"line","strokeWidth":1.5},
  "encoding":{"x":{"field":"t","type":"quantitative","scale":{"domain":[150,720],"nice":false,"zero":false},"axis":{"values":[200,300,400,500,600,700],"format":"d","title":"Time (sec)"}},"y":{"field":"v","type":"quantitative","scale":{"domain":[-0.526,0.535],"nice":false,"zero":false},"axis":{"values":[-0.5,0,0.5],"title":"Binding (nm)","labelExpr":"datum.value > 0.1 ? '0.5' : datum.value < -0.1 ? '-0.5' : '0'"}},"color":{"field":"s","type":"nominal","scale":{"domain":["g","r","u","e","b"],"range":["#c4c4c4","#8b1010","#8a1a8a","#2b8c7c","#1c2a8c"]},"legend":null}}},
 {"data":{"name":"curves"},"transform":[{"filter":"datum.p==='50N297Q'"},{"fold":["f1","f2","f3","f4","f5"],"as":["s","v"]},{"filter":"isValid(datum.v)"}],"mark":{"type":"line","strokeWidth":1.4,"color":"#111111"},"encoding":{"x":{"field":"t","type":"quantitative"},"y":{"field":"v","type":"quantitative"},"detail":{"field":"s"}}},
 {"data":{"name":"phases"},"mark":{"type":"rule","color":"#ff1a1a","strokeWidth":1,"strokeDash":[10,3]},"encoding":{"x":{"field":"t","type":"quantitative"}}},
 {"data":{"name":"labels"},"transform":[{"filter":"datum.p==='50N297Q'"}],"mark":{"type":"text","align":"right","baseline":"middle","font":"Open Sans","fontSize":21,"color":"#1a1a1a"},"encoding":{"x":{"datum":721,"type":"quantitative"},"y":{"datum":0.27,"type":"quantitative"},"text":{"field":"name"}}}
]},
{"width":522,"height":121,"layer":[
 {"data":{"name":"curves"},"transform":[{"filter":"datum.p==='90GlcNAc'"},{"fold":["g","r","u","e","b"],"as":["s","v"]},{"filter":"isValid(datum.v)"}],"mark":{"type":"line","strokeWidth":1.5},
  "encoding":{"x":{"field":"t","type":"quantitative","scale":{"domain":[150,720],"nice":false,"zero":false},"axis":{"values":[200,300,400,500,600,700],"format":"d","title":"Time (sec)"}},"y":{"field":"v","type":"quantitative","scale":{"domain":[-0.526,0.535],"nice":false,"zero":false},"axis":{"values":[-0.5,0,0.5],"title":"Binding (nm)","labelExpr":"datum.value > 0.1 ? '0.5' : datum.value < -0.1 ? '-0.5' : '0'"}},"color":{"field":"s","type":"nominal","scale":{"domain":["g","r","u","e","b"],"range":["#c4c4c4","#8b1010","#8a1a8a","#2b8c7c","#1c2a8c"]},"legend":null}}},
 {"data":{"name":"curves"},"transform":[{"filter":"datum.p==='90GlcNAc'"},{"fold":["f1","f2","f3","f4","f5"],"as":["s","v"]},{"filter":"isValid(datum.v)"}],"mark":{"type":"line","strokeWidth":1.4,"color":"#111111"},"encoding":{"x":{"field":"t","type":"quantitative"},"y":{"field":"v","type":"quantitative"},"detail":{"field":"s"}}},
 {"data":{"name":"phases"},"mark":{"type":"rule","color":"#ff4d4d","strokeWidth":2,"strokeDash":[12,5]},"encoding":{"x":{"field":"t","type":"quantitative"}}},
 {"data":{"name":"labels"},"transform":[{"filter":"datum.p==='90GlcNAc'"}],"mark":{"type":"text","align":"right","baseline":"middle","font":"Open Sans","fontSize":21,"color":"#1a1a1a"},"encoding":{"x":{"datum":709,"type":"quantitative"},"y":{"datum":0.255,"type":"quantitative"},"text":{"field":"name"}}}
]},
{"width":522,"height":121,"layer":[
 {"data":{"name":"curves"},"transform":[{"filter":"datum.p==='50GlcNAc'"},{"fold":["g","r","u","e","b"],"as":["s","v"]},{"filter":"isValid(datum.v)"}],"mark":{"type":"line","strokeWidth":1.5},
  "encoding":{"x":{"field":"t","type":"quantitative","scale":{"domain":[150,720],"nice":false,"zero":false},"axis":{"values":[200,300,400,500,600,700],"format":"d","title":"Time (sec)"}},"y":{"field":"v","type":"quantitative","scale":{"domain":[-0.526,0.535],"nice":false,"zero":false},"axis":{"values":[-0.5,0,0.5],"title":"Binding (nm)","labelExpr":"datum.value > 0.1 ? '0.5' : datum.value < -0.1 ? '-0.5' : '0'"}},"color":{"field":"s","type":"nominal","scale":{"domain":["g","r","u","e","b"],"range":["#c4c4c4","#8b1010","#8a1a8a","#2b8c7c","#1c2a8c"]},"legend":null}}},
 {"data":{"name":"curves"},"transform":[{"filter":"datum.p==='50GlcNAc'"},{"fold":["f1","f2","f3","f4","f5"],"as":["s","v"]},{"filter":"isValid(datum.v)"}],"mark":{"type":"line","strokeWidth":1.4,"color":"#111111"},"encoding":{"x":{"field":"t","type":"quantitative"},"y":{"field":"v","type":"quantitative"},"detail":{"field":"s"}}},
 {"data":{"name":"phases"},"mark":{"type":"rule","color":"#ff1a1a","strokeWidth":1,"strokeDash":[10,3]},"encoding":{"x":{"field":"t","type":"quantitative"}}},
 {"data":{"name":"labels"},"transform":[{"filter":"datum.p==='50GlcNAc'"}],"mark":{"type":"text","align":"right","baseline":"middle","font":"Open Sans","fontSize":21,"color":"#1a1a1a"},"encoding":{"x":{"datum":723,"type":"quantitative"},"y":{"datum":0.23,"type":"quantitative"},"text":{"field":"name"}}}
]},
{"width":522,"height":121,"layer":[
 {"data":{"name":"curves"},"transform":[{"filter":"datum.p==='25'"},{"fold":["g","r","u","e","b"],"as":["s","v"]},{"filter":"isValid(datum.v)"}],"mark":{"type":"line","strokeWidth":1.5},
  "encoding":{"x":{"field":"t","type":"quantitative","scale":{"domain":[150,720],"nice":false,"zero":false},"axis":{"values":[200,300,400,500,600,700],"format":"d","title":"Time (sec)"}},"y":{"field":"v","type":"quantitative","scale":{"domain":[-0.526,0.535],"nice":false,"zero":false},"axis":{"values":[-0.5,0,0.5],"title":"Binding (nm)","labelExpr":"datum.value > 0.1 ? '0.5' : datum.value < -0.1 ? '-0.5' : '0'"}},"color":{"field":"s","type":"nominal","scale":{"domain":["g","r","u","e","b"],"range":["#c4c4c4","#8b1010","#8a1a8a","#2b8c7c","#1c2a8c"]},"legend":null}}},
 {"data":{"name":"curves"},"transform":[{"filter":"datum.p==='25'"},{"fold":["f1","f2","f3","f4","f5"],"as":["s","v"]},{"filter":"isValid(datum.v)"}],"mark":{"type":"line","strokeWidth":1.4,"color":"#111111"},"encoding":{"x":{"field":"t","type":"quantitative"},"y":{"field":"v","type":"quantitative"},"detail":{"field":"s"}}},
 {"data":{"name":"phases"},"mark":{"type":"rule","color":"#ff4d4d","strokeWidth":2,"strokeDash":[12,5]},"encoding":{"x":{"field":"t","type":"quantitative"}}},
 {"data":{"name":"labels"},"transform":[{"filter":"datum.p==='25'"}],"mark":{"type":"text","align":"right","baseline":"middle","font":"Open Sans","fontSize":17,"color":"#1a1a1a"},"encoding":{"x":{"datum":718,"type":"quantitative"},"y":{"datum":0.29,"type":"quantitative"},"text":{"field":"name"}}}
]}
],
"config":{
 "view":{"fill":"#f8f8f8","stroke":"#d2d2d2","strokeWidth":1},
 "axis":{"labelFont":"DejaVu Sans","labelFontSize":12,"labelColor":"#333333","titleFont":"DejaVu Sans","titleFontSize":12,"titleFontWeight":"normal","titleColor":"#333333","gridColor":"#dedede","gridWidth":1,"domain":false,"ticks":false},
 "axisX":{"labelPadding":9,"titlePadding":3},
 "axisY":{"labelPadding":8,"titlePadding":5}
}
}
